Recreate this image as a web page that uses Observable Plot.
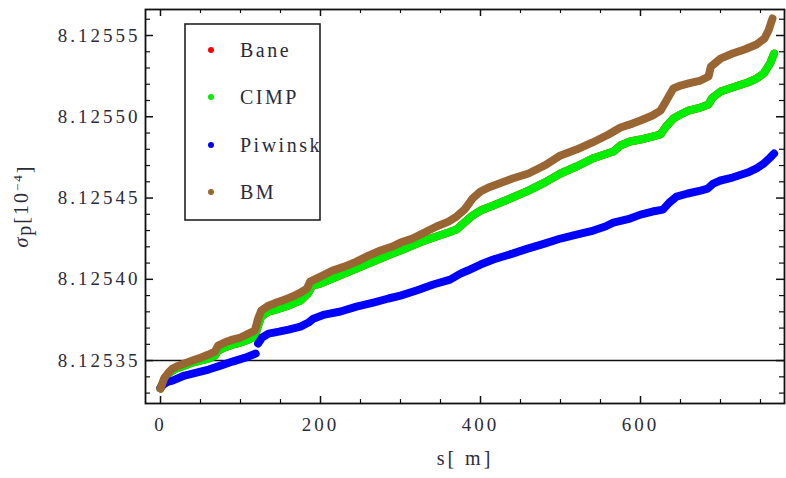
<!DOCTYPE html>
<html><head><meta charset="utf-8">
<script src="https://cdn.jsdelivr.net/npm/d3@7"></script>
<script src="https://cdn.jsdelivr.net/npm/@observablehq/plot@0.6"></script>
<style>body{margin:0;background:#fff}</style></head>
<body><div id="chart"></div>
<script>
// ---- data ----
const seriesNames = ["Bane", "CIMP", "Piwinski", "BM"];
const seriesColors = ["#ff0000", "#00ee00", "#0000ff", "#996633"];

const bmS = [0,5,10,15,20,30,40,50,60,68,72,80,90,100,110,118,122,126,135,145,155,165,175,183,187,200,215,230,245,260,275,290,300,315,330,345,360,370,380,390,400,410,420,440,460,480,500,520,540,560,575,590,600,615,625,631,641,650,660,675,685,688,700,715,730,745,755,760,765];
const bmY = [8.1253328,8.1253395,8.1253426,8.1253451,8.1253463,8.1253482,8.1253500,8.1253518,8.1253537,8.1253555,8.1253592,8.1253611,8.1253629,8.1253642,8.1253666,8.1253685,8.1253758,8.1253808,8.1253838,8.1253857,8.1253875,8.1253894,8.1253918,8.1253943,8.1253986,8.1254017,8.1254054,8.1254078,8.1254109,8.1254146,8.1254177,8.1254202,8.1254226,8.1254251,8.1254288,8.1254325,8.1254355,8.1254386,8.1254429,8.1254497,8.1254540,8.1254565,8.1254583,8.1254620,8.1254651,8.1254700,8.1254762,8.1254798,8.1254842,8.1254891,8.1254934,8.1254958,8.1254977,8.1255008,8.1255038,8.1255088,8.1255174,8.1255192,8.1255205,8.1255223,8.1255248,8.1255309,8.1255358,8.1255389,8.1255414,8.1255445,8.1255482,8.1255531,8.1255605];

const cimpS = [0,5,10,15,20,30,40,50,60,68,72,80,90,100,110,118,122,126,135,145,160,175,184,190,200,215,230,245,260,275,290,300,315,330,345,360,370,380,390,400,416,440,460,480,500,520,540,555,566,575,587,600,615,625,632,641,650,660,675,685,690,700,715,734,745,754,762,767];
const cimpY = [8.1253328,8.1253389,8.1253420,8.1253438,8.1253451,8.1253469,8.1253488,8.1253500,8.1253512,8.1253531,8.1253562,8.1253580,8.1253598,8.1253611,8.1253629,8.1253648,8.1253715,8.1253771,8.1253802,8.1253814,8.1253838,8.1253869,8.1253912,8.1253962,8.1253974,8.1254005,8.1254035,8.1254066,8.1254097,8.1254128,8.1254158,8.1254177,8.1254208,8.1254238,8.1254263,8.1254288,8.1254306,8.1254349,8.1254392,8.1254423,8.1254454,8.1254503,8.1254546,8.1254595,8.1254651,8.1254694,8.1254743,8.1254768,8.1254786,8.1254823,8.1254848,8.1254860,8.1254878,8.1254891,8.1254940,8.1254989,8.1255014,8.1255038,8.1255057,8.1255075,8.1255118,8.1255155,8.1255180,8.1255211,8.1255235,8.1255266,8.1255328,8.1255389];

// Bane lies underneath CIMP everywhere in the picture (no red visible)
const baneS = cimpS;
const baneY = cimpY;

const piwS = [0,5,10,15,30,45,60,75,90,106,119,122,127,135,148,160,175,185,191,205,225,245,266,285,300,320,341,362,375,384,400,416,440,459,480,500,520,541,556,566,587,600,615,628,636,645,659,675,684,691,700,715,734,745,754,762,767];
const piwY = [8.1253334,8.1253358,8.1253371,8.1253377,8.1253408,8.1253426,8.1253445,8.1253469,8.1253494,8.1253518,8.1253543,8.1253605,8.1253642,8.1253666,8.1253678,8.1253691,8.1253709,8.1253734,8.1253758,8.1253783,8.1253802,8.1253832,8.1253857,8.1253882,8.1253900,8.1253931,8.1253968,8.1253998,8.1254035,8.1254054,8.1254091,8.1254122,8.1254158,8.1254189,8.1254220,8.1254251,8.1254275,8.1254300,8.1254325,8.1254349,8.1254374,8.1254398,8.1254417,8.1254429,8.1254472,8.1254509,8.1254528,8.1254546,8.1254558,8.1254589,8.1254608,8.1254626,8.1254657,8.1254682,8.1254712,8.1254749,8.1254774];
const piwGapAt = 120; // visible break in the Piwinski curve

const xMajor = [0, 200, 400, 600];
const xMinor = [50,100,150,250,300,350,450,500,550,650,700,750];
const yMajor = [8.12535, 8.12540, 8.12545, 8.12550, 8.12555];
const yMinor = [8.12533,8.12534,8.12536,8.12537,8.12538,8.12539,8.12541,8.12542,8.12543,8.12544,8.12546,8.12547,8.12548,8.12549,8.12551,8.12552,8.12553,8.12554,8.12556];
const axisLineY = 8.12535;

// ---- build ----
const mk = (S, Y, name) => S.map((s, i) => ({s, y: Y[i], name, seg: (name === "Piwinski" && s > piwGapAt) ? 1 : 0}));
const rows = [
  ...mk(baneS, baneY, "Bane"),
  ...mk(cimpS, cimpY, "CIMP"),
  ...mk(piwS, piwY, "Piwinski"),
  ...mk(bmS, bmY, "BM")
];

const W = 786, H = 478, mL = 145, mR = 2, mT = 9, mB = 75;
const pw = W - mL - mR, ph = H - mT - mB;
const font = "'Liberation Serif', 'DejaVu Serif', serif";
const txtCol = "#2b2b3a";

const lineFor = (name, color) => Plot.line(rows.filter(d => d.name === name), {
  x: "s", y: "y", z: "seg", stroke: color, strokeWidth: 8,
  strokeLinecap: "round", strokeLinejoin: "round", curve: "linear"
});

const plot = Plot.plot({
  width: W, height: H,
  marginLeft: mL, marginRight: mR, marginTop: mT, marginBottom: mB,
  style: {fontFamily: font, fontSize: "19px", color: txtCol, background: "#fff"},
  x: {domain: [-18.75, 780]},
  y: {domain: [8.1253236, 8.1255660]},
  marks: [
    Plot.ruleY([axisLineY], {stroke: "#111", strokeWidth: 1.5}),
    ...seriesNames.map((n, i) => lineFor(n, seriesColors[i])),
    // inward ticks, bottom & top
    Plot.tickX(xMajor, {x: d => d, insetTop: ph - 7, stroke: "#111", strokeWidth: 1.5}),
    Plot.tickX(xMajor, {x: d => d, insetBottom: ph - 7, stroke: "#111", strokeWidth: 1.5}),
    Plot.tickX(xMinor, {x: d => d, insetTop: ph - 4, stroke: "#111", strokeWidth: 1.2}),
    Plot.tickX(xMinor, {x: d => d, insetBottom: ph - 4, stroke: "#111", strokeWidth: 1.2}),
    // inward ticks, left & right
    Plot.tickY(yMajor, {y: d => d, insetRight: pw - 8, stroke: "#111", strokeWidth: 1.5}),
    Plot.tickY(yMajor, {y: d => d, insetLeft: pw - 8, stroke: "#111", strokeWidth: 1.5}),
    Plot.tickY(yMinor, {y: d => d, insetRight: pw - 5, stroke: "#111", strokeWidth: 1.2}),
    Plot.tickY(yMinor, {y: d => d, insetLeft: pw - 5, stroke: "#111", strokeWidth: 1.2}),
    Plot.axisX(xMajor, {tickSize: 0, tickPadding: 14, tickFormat: d => String(d), label: null, fill: txtCol}),
    Plot.axisY(yMajor, {tickSize: 0, tickPadding: 5, tickFormat: d3.format(".5f"), label: null, fill: txtCol}),
    Plot.frame({stroke: "#111", strokeWidth: 1.8}),
    Plot.text(["s[ m]"], {frameAnchor: "bottom", dy: 61, fill: txtCol, fontSize: 20})
  ]
});

document.getElementById("chart").appendChild(plot);
const svg = d3.select(plot);
svg.selectAll("text").style("letter-spacing", "3px");

// y-axis label with sub/superscripts
const yl = svg.append("text")
  .attr("transform", `translate(28,${mT + ph / 2}) rotate(-90)`)
  .attr("text-anchor", "middle")
  .attr("fill", txtCol)
  .style("font-family", font).style("font-size", "20px").style("letter-spacing", "2px");
yl.append("tspan").text("σ").style("font-style", "italic");
yl.append("tspan").text("p").attr("dy", "0.15em");
yl.append("tspan").text("[10").attr("dy", "-0.15em");
yl.append("tspan").text("−4").attr("dy", "-0.45em").style("font-size", "13px");
yl.append("tspan").text("]").attr("dy", "0.45em");

// legend box
const lg = svg.append("g");
lg.append("clipPath").attr("id", "lgclip").append("rect")
  .attr("x", 185).attr("y", 24).attr("width", 135).attr("height", 196);
lg.append("rect").attr("x", 185).attr("y", 24).attr("width", 135).attr("height", 196)
  .attr("fill", "#fff").attr("stroke", "#222").attr("stroke-width", 1.6);
const rowY = [50, 97, 145, 192];
seriesNames.forEach((n, i) => {
  lg.append("circle").attr("cx", 211).attr("cy", rowY[i]).attr("r", 3)
    .attr("fill", seriesColors[i]);
  lg.append("text").attr("x", 240).attr("y", rowY[i]).attr("dy", "0.35em")
    .attr("text-anchor", "start")
    .attr("clip-path", "url(#lgclip)")
    .attr("fill", txtCol)
    .style("font-family", font).style("font-size", "20px").style("letter-spacing", "2.5px")
    .text(n);
});
</script>
</body></html>
